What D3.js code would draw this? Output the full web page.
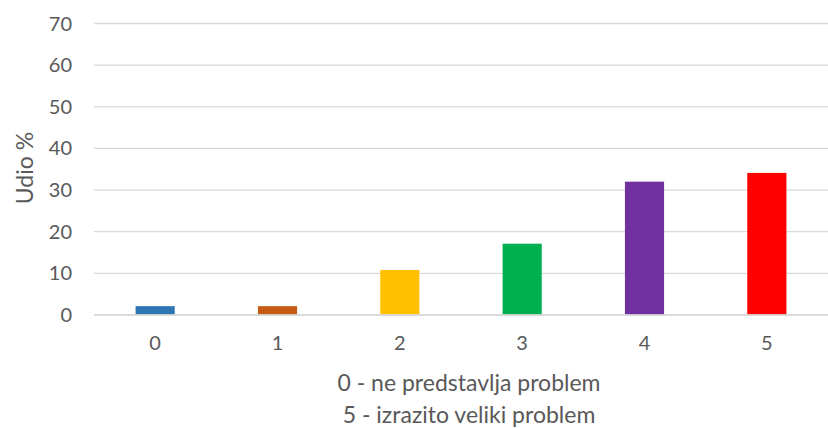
<!DOCTYPE html>
<html><head><meta charset="utf-8">
<script src="https://cdn.jsdelivr.net/npm/d3@7"></script>
<style>html,body{margin:0;padding:0;background:#fff;}svg{display:block;font-family:Lato,"Open Sans",sans-serif;}</style>
</head><body>
<svg id="c" width="828" height="428"></svg>
<script>
const categories = ["0","1","2","3","4","5"];
const values = [2, 2, 10.7, 17, 31.9, 34];
const colors = ["#2E75B6","#C55A11","#FFC000","#00B050","#7030A0","#FF0000"];
const yTicks = [0,10,20,30,40,50,60,70];
const yTitle = "Udio %";
const xTitleLines = ["0 - ne predstavlja problem","5 - izrazito veliki problem"];

const svg = d3.select("#c");
const m = {left:94, right:828, top:23, bottom:314.5};
const x = d3.scaleBand().domain(categories).range([m.left, m.right]).paddingInner(0.68).paddingOuter(0.34);
const y = d3.scaleLinear().domain([0,70]).range([m.bottom, m.top]);
const txt = "#595959";
const fam = "Lato, 'Open Sans', sans-serif";

// gridlines
const yAxis = d3.axisLeft(y).tickValues(yTicks).tickSize(-(m.right-m.left)).tickPadding(22).tickFormat(d3.format("d"));
const gy = svg.append("g").attr("transform",`translate(${m.left},0)`).call(yAxis)
  .attr("font-family",fam).attr("font-size",20);
gy.select(".domain").remove();
gy.selectAll(".tick line").attr("stroke","#d9d9d9").attr("stroke-width",1.3);
gy.selectAll(".tick text").attr("fill",txt).attr("dy","0.35em");

// bars
svg.append("g").selectAll("rect").data(values).join("rect")
  .attr("x",(d,i)=>x(categories[i]))
  .attr("width",x.bandwidth())
  .attr("y",d=>y(d))
  .attr("height",d=>y(0)-y(d))
  .attr("fill",(d,i)=>colors[i]);

// x axis
const xAxis = d3.axisBottom(x).tickSize(0).tickPadding(21);
const gx = svg.append("g").attr("transform",`translate(0,${y(0)})`).call(xAxis)
  .attr("font-family",fam).attr("font-size",20);
gx.select(".domain").attr("stroke","#d9d9d9").attr("stroke-width",1.3);
gx.selectAll(".tick text").attr("fill",txt);

// y title
svg.append("text").attr("transform","translate(33,168) rotate(-90)")
  .attr("text-anchor","middle").attr("fill",txt).style("font-size","23px").text(yTitle);

// x title
svg.append("g").selectAll("text").data(xTitleLines).join("text")
  .attr("x",(m.left+m.right)/2 + 8).attr("y",(d,i)=>391+i*32)
  .attr("text-anchor","middle").attr("fill",txt).style("font-size","23px").text(d=>d);
</script>
</body></html>
